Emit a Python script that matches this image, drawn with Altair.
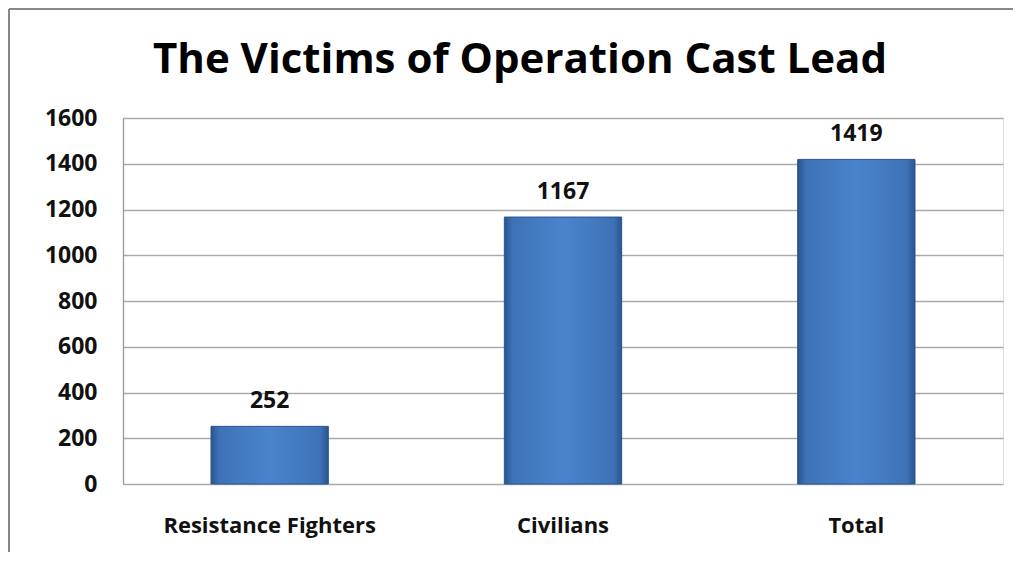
import altair as alt
import pandas as pd

categories = ["Resistance Fighters", "Civilians", "Total"]
values = [252, 1167, 1419]
y_ticks = [0, 200, 400, 600, 800, 1000, 1200, 1400, 1600]
title_text = "The Victims of Operation Cast Lead"

df = pd.DataFrame({"category": categories, "value": values})

FONT = "Open Sans"

grad = alt.Gradient(
    gradient="linear", x1=0, x2=1, y1=0, y2=0,
    stops=[
        alt.GradientStop(color="#2a558f", offset=0),
        alt.GradientStop(color="#3e72b7", offset=0.07),
        alt.GradientStop(color="#4a84cc", offset=0.5),
        alt.GradientStop(color="#3e72b7", offset=0.93),
        alt.GradientStop(color="#2a558f", offset=1),
    ],
)

x = alt.X("category:N", sort=categories, title=None,
          scale=alt.Scale(paddingInner=0.6, paddingOuter=0.3),
          axis=alt.Axis(labelAngle=0, labelFont=FONT, labelFontSize=22,
                        labelFontWeight="bold", labelColor="#111111",
                        labelPadding=31, labelLimit=0, ticks=False, domain=False))
y = alt.Y("value:Q", title=None,
          scale=alt.Scale(domain=[0, 1600], nice=False),
          axis=alt.Axis(values=y_ticks, format="d", labelFont=FONT, labelFontSize=23,
                        labelFontWeight="bold", labelColor="#111111",
                        labelPadding=26, ticks=False,
                        domainColor="#999999", gridColor="#aaaaaa",
                        gridWidth=1.3, domainWidth=1.3))

bars = alt.Chart(df).mark_bar(fill=grad, stroke="#2b5590", strokeWidth=1).encode(x=x, y=y)

labels = alt.Chart(df).mark_text(
    font=FONT, fontSize=23, fontWeight="bold", color="#111111",
    baseline="alphabetic", dy=-18
).encode(x=alt.X("category:N", sort=categories), y="value:Q", text="value:Q")

title = alt.Chart(pd.DataFrame({"t": [title_text]})).mark_text(
    font=FONT, fontSize=42, fontWeight="bold", color="#000000",
    baseline="alphabetic", align="center"
).encode(text="t:N", x=alt.value(397), y=alt.value(-45))

border_top = alt.Chart(df).mark_rule(color="#888888", strokeWidth=2).encode(
    x=alt.value(-114), x2=alt.value(895), y=alt.value(-109))
border_left = alt.Chart(df).mark_rule(color="#888888", strokeWidth=2).encode(
    x=alt.value(-114), y=alt.value(-109), y2=alt.value(440))

chart = alt.layer(bars, labels, title, border_top, border_left).properties(
    width=880, height=366,
    autosize=alt.AutoSizeParams(type="none"),
    padding={"left": 115, "top": 110, "right": 10, "bottom": 68},
).configure_view(stroke=None).configure(background="white")

chart.save("out.html", embed_options={"renderer": "svg", "actions": False})
